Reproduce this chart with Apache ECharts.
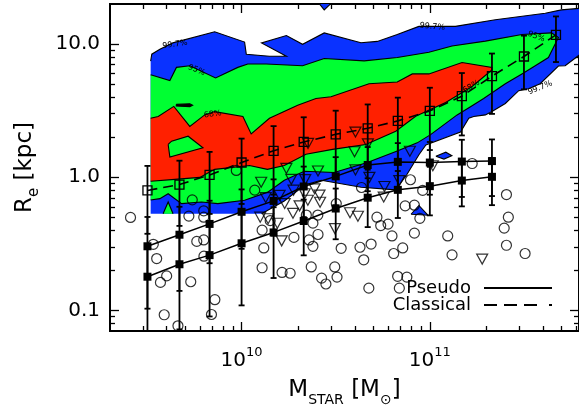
<!DOCTYPE html>
<html>
<head>
<meta charset="utf-8">
<script src="https://cdn.jsdelivr.net/npm/echarts@6.0.0/dist/echarts.min.js"></script>
<style>
html,body{margin:0;padding:0;background:#fff;}
#chart{width:579px;height:412px;}
</style>
</head>
<body>
<div id="chart"></div>
<script>
// ================= DATA =================
// Binned relations (log10 stellar mass of bin centre, R_e in kpc, 1-sigma error in kpc)
const classicalLogM = [9.50,9.67,9.83,10.00,10.17,10.33,10.50,10.67,10.83,11.00,11.17,11.33,11.50,11.67];
const classicalRe   = [0.796,0.881,1.04,1.29,1.58,1.84,2.10,2.33,2.65,3.15,4.06,5.74,8.07,11.73];
const classicalErr  = [0.42,0.45,0.51,0.66,0.84,0.98,1.06,1.19,1.31,1.55,2.0,2.75,3.5,4.4];

const pseudoLogM = [9.50,9.67,9.83,10.00,10.17,10.33,10.50,10.67,10.83,11.00,11.17,11.33];
const pseudoRe   = [0.179,0.222,0.260,0.319,0.385,0.469,0.582,0.702,0.804,0.857,0.944,1.007];
const pseudoErr  = [0.13,0.15,0.17,0.21,0.21,0.21,0.24,0.28,0.31,0.34,0.34,0.39];
const pseudo2Re  = [0.303,0.370,0.446,0.550,0.664,0.852,1.015,1.235,1.304,1.289,1.311,1.322];
const pseudo2Err = [0.20,0.23,0.22,0.26,0.30,0.35,0.40,0.45,0.50,0.55,0.60,0.60];

// Individual galaxies: [log10 M*, log10 Re]
const circlePts = [[9.410,-0.302],[9.531,-0.504],[9.549,-0.611],[9.602,-0.741],[9.569,-0.790],[9.589,-1.033],[9.662,-1.116],
 [9.730,-0.785],[9.738,-0.170],[9.720,-0.292],[9.762,-0.482],[9.799,-0.471],[9.799,-0.252],[9.799,-0.300],[9.800,-0.593],
 [9.858,-0.920],[9.840,-1.031],[9.972,0.051],[10.070,-0.097],[10.109,-0.398],[10.118,-0.531],[10.109,-0.680],[10.215,-0.715],
 [10.258,-0.721],[10.278,-0.452],[10.152,-0.326],[10.358,-0.471],[10.379,-0.519],[10.406,-0.430],[10.370,-0.674],[10.425,-0.758],
 [10.448,-0.802],[10.495,-0.674],[10.507,-0.750],[10.529,-0.534],[10.379,-0.345],[10.405,-0.284],[10.344,-0.284],[10.503,-0.198],
 [10.637,-0.077],[10.629,-0.526],[10.649,-0.620],[10.688,-0.502],[10.719,-0.300],[10.739,-0.363],[10.778,-0.352],[10.799,-0.441],
 [10.856,-0.531],[10.808,-0.573],[10.676,-0.833],[10.829,-0.744],[10.838,-0.833],[10.878,-0.750],[10.869,-0.215],[10.918,-0.210],
 [10.918,-0.420],[10.947,-0.309],[10.897,-0.019],[10.962,-0.099],[11.095,-0.441],[11.118,-0.583],[11.225,0.103],[11.407,-0.130],
 [11.417,-0.300],[11.395,-0.382],[11.407,-0.511],[11.506,-0.573]];
const trianglePts = [[10.104,-0.038],[10.128,-0.153],[10.099,-0.300],[10.141,-0.312],[10.213,-0.478],[10.238,0.066],[10.264,-0.016],
 [10.276,-0.097],[10.335,-0.124],[10.338,-0.018],[10.353,0.254],[10.406,0.047],[10.388,-0.087],[10.414,-0.134],[10.417,-0.188],
 [10.352,-0.173],[10.273,-0.271],[10.190,-0.346],[10.202,-0.136],[10.605,0.339],[10.671,0.251],[10.600,0.191],[10.894,0.195],
 [10.605,0.055],[10.679,-0.001],[11.016,0.086],[10.838,-0.025],[10.759,-0.070],[10.755,-0.149],[10.576,-0.267],[10.618,-0.293],
 [10.496,-0.386],[11.278,-0.615],[10.308,-0.215],[10.229,-0.198]];

// Density contours of the comparison sample: vertices [log10 M*, log10 Re]
const contour997 = [[9.517,-0.274],[9.517,0.872],[9.523,0.924],[9.566,0.961],[9.635,1.009],[9.857,1.092],[10.016,1.015],[10.025,0.924],
 [10.148,0.909],[10.238,0.909],[10.106,1.009],[10.238,1.064],[10.324,0.998],[10.439,1.084],[10.634,1.010],[10.721,1.020],[10.827,1.072],
 [10.942,1.133],[11.136,1.133],[11.348,1.183],[11.613,1.232],[11.699,1.257],[11.80,1.269],[11.80,0.924],[11.719,0.837],[11.683,0.835],
 [11.586,0.702],[11.524,0.665],[11.472,0.650],[11.401,0.554],[11.330,0.493],[11.295,0.468],[11.233,0.456],[11.207,0.443],[11.163,0.340],
 [10.979,0.243],[10.942,0.169],[10.879,0.022],[10.819,-0.095],[10.635,-0.075],[10.423,-0.023],[10.339,-0.056],[10.227,-0.178],[10.106,-0.274]];
const contour997Top = [[10.386,1.35],[10.508,1.35],[10.439,1.257]];
const contour997Diamond = [[11.032,0.158],[11.085,0.188],[11.117,0.162],[11.075,0.136]];
const contour997Tri = [[10.900,-0.278],[10.942,-0.212],[10.990,-0.285]];
const contour95 = [[9.517,0.769],[9.619,0.726],[9.654,0.825],[9.725,0.837],[9.862,0.746],[9.980,0.825],[10.033,0.850],[10.131,0.850],
 [10.324,0.837],[10.439,0.892],[10.651,0.874],[10.827,0.899],[10.995,0.939],[11.118,0.985],[11.295,1.022],[11.489,1.072],[11.646,1.084],
 [11.683,1.050],[11.630,0.899],[11.560,0.837],[11.489,0.776],[11.401,0.702],[11.286,0.591],[11.216,0.530],[11.145,0.468],[11.004,0.320],
 [10.933,0.258],[10.827,0.197],[10.668,0.110],[10.492,0.036],[10.333,0.045],[10.227,-0.023],[10.139,-0.112],[10.016,-0.173],[9.874,-0.198],
 [9.787,-0.186],[9.681,-0.198],[9.610,-0.124],[9.566,-0.161],[9.517,-0.171]];
const contour95Island = [[9.583,-0.274],[9.610,-0.186],[9.636,-0.274]];
const contour68 = [[9.517,0.443],[9.557,0.456],[9.640,0.532],[9.725,0.382],[9.804,0.468],[9.857,0.493],[10.007,0.456],[10.051,0.325],
 [10.148,0.443],[10.298,0.541],[10.395,0.591],[10.475,0.604],[10.677,0.702],[10.827,0.715],[10.907,0.776],[10.995,0.776],[11.171,0.862],
 [11.330,0.825],[11.330,0.806],[11.223,0.680],[11.084,0.561],[10.925,0.458],[10.819,0.345],[10.660,0.246],[10.483,0.209],[10.342,0.172],
 [10.227,0.088],[10.137,0.059],[10.042,0.088],[9.857,0.059],[9.778,-0.001],[9.645,-0.016],[9.517,-0.030]];
const contour68Hole = [[9.610,0.246],[9.628,0.271],[9.716,0.308],[9.795,0.221],[9.619,0.152]];
const contourSpeck = [[9.653,0.547],[9.725,0.552],[9.740,0.541],[9.725,0.530],[9.653,0.535]];
// density-grid limits (edges there are not contour lines)
const gridLogMMin = 9.517, gridLogMMax = 11.80, gridLogReMin = -0.274, gridLogReMax = 1.30;

const contourLabelText = ['99.7%','95%','68%','99.7%','95%','68%','99.7%'];
const contourLabelPos  = [[9.646,0.998],[9.761,0.805],[9.847,0.473],[11.013,1.131],[11.565,1.057],[11.220,0.680],[11.586,0.672]];

// axis ticks
const xMajorTicks = [1e10, 1e11];
const xMinorTicks = [3e9,4e9,5e9,6e9,7e9,8e9,9e9,2e10,3e10,4e10,5e10,6e10,7e10,8e10,9e10,2e11,3e11,4e11,5e11,6e11];
const yMajorTicks = [0.1, 1, 10];
const yMinorTicks = [0.08,0.09,0.2,0.3,0.4,0.5,0.6,0.7,0.8,0.9,2,3,4,5,6,7,8,9];

// ================= STYLE / BUILD =================
const FONT = 'DejaVu Sans';
const xMin = 2e9, xMax = 6.2e11, yMin = 0.07, yMax = 20;
const BLUE = '#0a32ff', GREEN = '#00ff32', RED = '#ff2000';
const contourLabelAngle = [8,-22,8,-5,-20,30,22];

const contours = [
  {pts: contour997, fill: BLUE},
  {pts: contour95, fill: GREEN},
  {pts: contour95Island, fill: GREEN},
  {pts: contour68, fill: RED},
  {pts: contour68Hole, fill: GREEN},
  {pts: contourSpeck, fill: '#000'},
  {pts: contour997Top, fill: BLUE},
  {pts: contour997Diamond, fill: BLUE},
  {pts: contour997Tri, fill: BLUE}
];
const P = v => Math.pow(10, v);

function onGridEdge(a, b) {
  return (a[0] === b[0] && (a[0] <= gridLogMMin || a[0] >= gridLogMMax)) ||
         (a[1] === b[1] && (a[1] <= gridLogReMin || a[1] >= gridLogReMax));
}

function renderContour(params, api) {
  const c = contours[api.value(2)];
  const pts = c.pts.map(v => api.coord([P(v[0]), P(v[1])]));
  const children = [{type: 'polygon', shape: {points: pts}, style: {fill: c.fill, stroke: null}}];
  const n = c.pts.length;
  let run = [pts[0]];
  const flush = () => {
    if (run.length > 1) children.push({type: 'polyline', shape: {points: run.slice()}, style: {stroke: '#000', lineWidth: 1.1, fill: 'none'}});
  };
  for (let i = 0; i < n; i++) {
    const j = (i + 1) % n;
    if (onGridEdge(c.pts[i], c.pts[j])) { flush(); run = [pts[j]]; }
    else run.push(pts[j]);
  }
  flush();
  return {type: 'group', children};
}

function renderLabel(params, api) {
  const i = api.value(2);
  const p = api.coord([P(contourLabelPos[i][0]), P(contourLabelPos[i][1])]);
  return {type: 'text', x: p[0], y: p[1], rotation: contourLabelAngle[i] * Math.PI / 180,
    style: {text: contourLabelText[i], fontSize: 8, fontFamily: FONT, fill: '#000', align: 'center', verticalAlign: 'middle'}};
}

function renderErr(params, api) {
  const x = api.value(0), r = api.value(1), s = api.value(2);
  const hi = api.coord([x, r + s]);
  const hasLo = r - s > 0;
  const lo = hasLo ? api.coord([x, r - s]) : [hi[0], api.coord([x, yMin])[1] + 30];
  const st = {stroke: '#000', lineWidth: 1.8};
  const cw = 3;
  const ch = [
    {type: 'line', shape: {x1: hi[0], y1: hi[1], x2: lo[0], y2: lo[1]}, style: st},
    {type: 'line', shape: {x1: hi[0] - cw, y1: hi[1], x2: hi[0] + cw, y2: hi[1]}, style: st}
  ];
  if (hasLo) ch.push({type: 'line', shape: {x1: lo[0] - cw, y1: lo[1], x2: lo[0] + cw, y2: lo[1]}, style: st});
  return {type: 'group', children: ch};
}

function errSeries(logM, re, err) {
  return {type: 'custom', coordinateSystem: 'cartesian2d', silent: true, clip: true, z: 4,
    encode: {x: 0, y: 1}, renderItem: renderErr,
    data: logM.map((m, i) => [P(m), re[i], err[i]])};
}

function xAxisCfg(pos, ticks, len, showLabels) {
  return {type: 'log', logBase: 10, min: xMin, max: xMax, position: pos, gridIndex: 0,
    axisLine: {show: true, lineStyle: {color: '#000', width: 2}},
    axisTick: {show: true, inside: true, length: len, lineStyle: {color: '#000', width: 1.3}, customValues: ticks},
    axisLabel: {show: showLabels, customValues: ticks, margin: 15, color: '#000',
      formatter: v => '{b|10}{s|' + Math.round(Math.log10(v)) + '}',
      rich: {b: {fontSize: 20, fontFamily: FONT, lineHeight: 30, color: '#000'},
             s: {fontSize: 13, fontFamily: FONT, lineHeight: 13, verticalAlign: 'top', color: '#000'}}},
    splitLine: {show: false}, minorTick: {show: false}};
}
function yAxisCfg(pos, ticks, len, showLabels) {
  return {type: 'log', logBase: 10, min: yMin, max: yMax, position: pos, gridIndex: 0,
    axisLine: {show: true, lineStyle: {color: '#000', width: 2}},
    axisTick: {show: true, inside: true, length: len, lineStyle: {color: '#000', width: 1.3}, customValues: ticks},
    axisLabel: {show: showLabels, customValues: ticks, margin: 10, color: '#000', fontSize: 20, fontFamily: FONT,
      formatter: v => v.toFixed(1)},
    splitLine: {show: false}, minorTick: {show: false}};
}

const xAxes = [xAxisCfg('bottom', xMajorTicks, 9, true), xAxisCfg('bottom', xMinorTicks, 5, false),
               xAxisCfg('top', xMajorTicks, 9, false), xAxisCfg('top', xMinorTicks, 5, false)];
xAxes[0].name = '{m|M}{s|STAR}{m| [M}{s|\u2299}{m|]}';
xAxes[0].nameLocation = 'middle';
xAxes[0].nameGap = 42;
xAxes[0].nameTextStyle = {color: '#000', rich: {
  m: {fontSize: 23, fontFamily: FONT, lineHeight: 34, color: '#000'},
  s: {fontSize: 14, fontFamily: FONT, lineHeight: 14, verticalAlign: 'bottom', color: '#000'}}};

const yAxes = [yAxisCfg('left', yMajorTicks, 9, true), yAxisCfg('left', yMinorTicks, 5, false),
               yAxisCfg('right', yMajorTicks, 9, false), yAxisCfg('right', yMinorTicks, 5, false)];
yAxes[0].name = '{m|R}{s|e}{m| [kpc]}';
yAxes[0].nameLocation = 'middle';
yAxes[0].nameGap = 68;
yAxes[0].nameTextStyle = {color: '#000', rich: {
  m: {fontSize: 23, fontFamily: FONT, lineHeight: 34, color: '#000'},
  s: {fontSize: 15, fontFamily: FONT, lineHeight: 14, verticalAlign: 'bottom', color: '#000'}}};

const option = {
  animation: false,
  backgroundColor: '#fff',
  grid: {left: 110, top: 4, width: 470, height: 332, containLabel: false},
  xAxis: xAxes,
  yAxis: yAxes,
  legend: {
    orient: 'vertical', right: 22, top: 274, align: 'right', selectedMode: false,
    itemWidth: 68, itemHeight: 2, itemGap: -1,
    textStyle: {fontSize: 18, fontFamily: FONT, color: '#000', padding: [0, 8, 0, 0]},
    data: [
      {name: 'Pseudo', icon: 'path://M0 0H68V2H0Z', itemStyle: {color: '#000', borderWidth: 0}},
      {name: 'Classical', icon: 'path://M0 0H13V2H0Z M20 0H33V2H20Z M40 0H53V2H40Z M65 0H68V2H65Z', itemStyle: {color: '#000', borderWidth: 0}}
    ]
  },
  series: [
    {type: 'custom', coordinateSystem: 'cartesian2d', silent: true, clip: true, z: 1,
     encode: {x: 0, y: 1}, renderItem: renderContour,
     data: contours.map((c, i) => [1e10, 1, i])},
    {type: 'custom', coordinateSystem: 'cartesian2d', silent: true, clip: true, z: 2,
     encode: {x: 0, y: 1}, renderItem: renderLabel,
     data: contourLabelText.map((t, i) => [1e10, 1, i])},
    {type: 'scatter', silent: true, z: 3, symbol: 'circle', symbolSize: 10,
     itemStyle: {color: 'rgba(0,0,0,0)', borderColor: '#000', borderWidth: 1.2},
     data: circlePts.map(p => [P(p[0]), P(p[1])])},
    {type: 'scatter', silent: true, z: 3, symbol: 'triangle', symbolSize: [11, 10], symbolRotate: 180,
     itemStyle: {color: 'rgba(0,0,0,0)', borderColor: '#000', borderWidth: 1.2},
     data: trianglePts.map(p => [P(p[0]), P(p[1])])},
    errSeries(classicalLogM, classicalRe, classicalErr),
    errSeries(pseudoLogM, pseudoRe, pseudoErr),
    errSeries(pseudoLogM, pseudo2Re, pseudo2Err),
    {name: 'Classical', type: 'line', silent: true, z: 5, symbol: 'rect', symbolSize: 9,
     itemStyle: {color: 'rgba(0,0,0,0)', borderColor: '#000', borderWidth: 1.3},
     lineStyle: {color: '#000', width: 1.6, type: [10, 6]},
     data: classicalLogM.map((m, i) => [P(m), classicalRe[i]])},
    {name: 'Pseudo', type: 'line', silent: true, z: 5, symbol: 'rect', symbolSize: 8,
     itemStyle: {color: '#000'}, lineStyle: {color: '#000', width: 1.5},
     data: pseudoLogM.map((m, i) => [P(m), pseudoRe[i]])},
    {name: 'Pseudo (upper)', type: 'line', silent: true, z: 5, symbol: 'rect', symbolSize: 8,
     itemStyle: {color: '#000'}, lineStyle: {color: '#000', width: 1.5},
     data: pseudoLogM.map((m, i) => [P(m), pseudo2Re[i]])}
  ]
};

const chart = echarts.init(document.getElementById('chart'), null, {renderer: 'canvas'});
chart.setOption(option);
</script>
</body>
</html>
